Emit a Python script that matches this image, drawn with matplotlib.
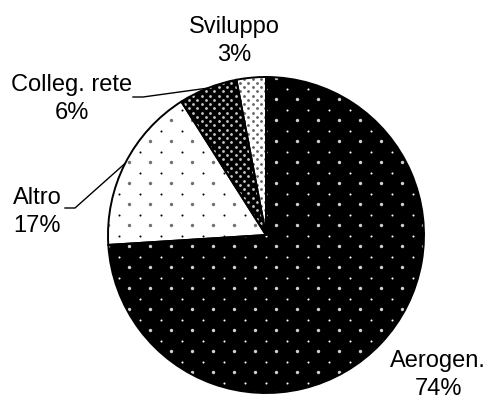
import numpy as np
import matplotlib
matplotlib.use('Agg')
import matplotlib.pyplot as plt

# cost breakdown
labels = ['Aerogen.', 'Altro', 'Colleg. rete', 'Sviluppo']
shares = [74, 17, 6, 3]

plt.rcParams['font.family'] = ['Liberation Sans', 'DejaVu Sans']

W, H = 489, 400
fig = plt.figure(figsize=(W / 100, H / 100), dpi=100)
ax = fig.add_axes([0, 0, 1, 1])

cx, cy, r = 266, H - 235, 158

# face colour and dot texture: (face, step, big dot, small dot, big size, small size)
styles = [
    ('black', 21, '#d0d0d0', 'white', 6.0, 2.2),
    ('white', 21, '#707070', 'black', 6.0, 2.2),
    ('black', 8.5, '#c8c8c8', '#c8c8c8', 4.0, 4.0),
    ('white', 8.5, '#606060', '#606060', 4.0, 4.0),
]

wedges, _ = ax.pie(shares, startangle=90, counterclock=False,
                   center=(cx, cy), radius=r, frame=True,
                   colors=[s[0] for s in styles],
                   wedgeprops=dict(linewidth=0))

def dot_grid(step, off):
    xs = np.arange(cx - r - step + off, cx + r + step, step)
    ys = np.arange(cy - r - step + off, cy + r + step, step)
    gx, gy = np.meshgrid(xs, ys)
    return gx.ravel(), gy.ravel()

for w, (face, step, c1, c2, s1, s2) in zip(wedges, styles):
    x1, y1 = dot_grid(step, 0)
    x2, y2 = dot_grid(step, step / 2)
    for xx, yy, cc, ss in ((x1, y1, c1, s1), (x2, y2, c2, s2)):
        sc = ax.scatter(xx, yy, s=ss, c=cc, marker='o', linewidths=0, zorder=3)
        sc.set_clip_path(w)

# outlines on top
outline, _ = ax.pie(shares, startangle=90, counterclock=False,
                    center=(cx, cy), radius=r, frame=True,
                    wedgeprops=dict(fill=False, edgecolor='black', linewidth=1.4))
for o in outline:
    o.set_zorder(4)

ax.set_xlim(0, W)
ax.set_ylim(0, H)
ax.set_aspect('equal')
ax.axis('off')

# labels
fs = 17
text_pos = {
    'Aerogen.': (438, 375),
    'Altro': (37, 212),
    'Colleg. rete': (72, 99),
    'Sviluppo': (234, 41),
}
for lab, v in zip(labels, shares):
    tx, ty = text_pos[lab]
    ax.text(tx, H - ty, '%s\n%d%%' % (lab, v), ha='center', va='center',
            fontsize=fs, linespacing=1.4, zorder=5)

# leader lines to the middle of the small slices
cum = np.cumsum([0] + shares)
tot = float(sum(shares))
leaders = {'Altro': (65, 208), 'Colleg. rete': (133, 97)}
for i, lab in enumerate(labels):
    if lab not in leaders:
        continue
    ang = np.deg2rad(90 - (cum[i] + shares[i] / 2.0) / tot * 360)
    ex, ey = cx + r * np.cos(ang), cy + r * np.sin(ang)
    lx, ly = leaders[lab]
    ax.plot([lx, lx + 10, ex], [H - ly, H - ly, ey], color='black',
            linewidth=1.0, zorder=5)

fig.savefig('out.png', dpi=100)
